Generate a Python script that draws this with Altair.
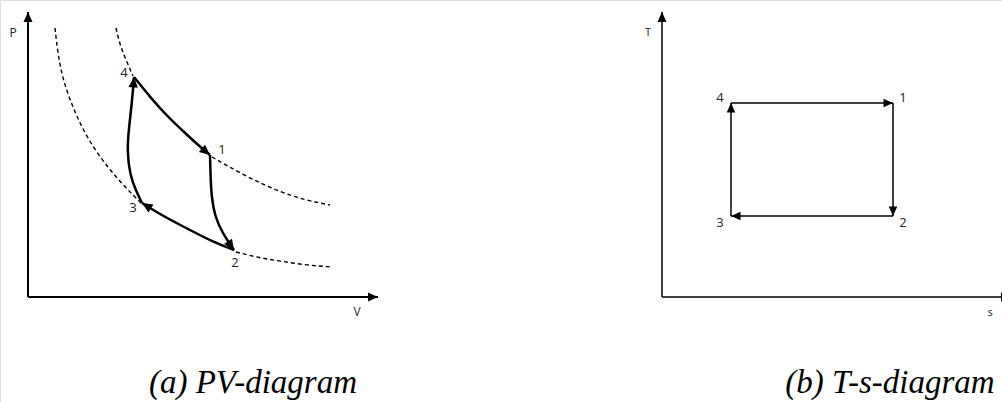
import math
import altair as alt
import pandas as pd

# ---------------- PV diagram (arbitrary volume / pressure units) ----------------
# Each cycle leg is listed from its start state to its end state.
leg_41_V = [10.6, 12.2, 13.9, 15.6, 17.0, 18.2]
leg_41_P = [22.0, 20.0, 18.1, 16.5, 15.2, 14.2]
leg_12_V = [18.2, 18.25, 18.35, 18.7, 19.5, 20.6]
leg_12_P = [14.2, 12.2, 10.0, 8.0, 6.3, 4.7]
leg_23_V = [20.6, 18.5, 16.0, 13.5, 11.4]
leg_23_P = [4.7, 5.5, 6.8, 8.1, 9.4]
leg_34_V = [11.4, 10.8, 10.2, 9.9, 10.1, 10.4, 10.6]
leg_34_P = [9.4, 10.6, 12.2, 14.6, 17.0, 19.5, 22.0]

# Visible pieces of the two isotherms (dashed)
iso_low_a_V = [2.7, 3.0, 3.5, 4.4, 5.4, 6.7, 8.2, 9.7, 11.3]
iso_low_a_P = [26.9, 24.2, 21.7, 19.2, 16.9, 14.7, 12.7, 11.0, 9.4]
iso_low_b_V = [20.8, 23.2, 25.2, 27.7, 30.4]
iso_low_b_P = [4.5, 3.9, 3.6, 3.2, 3.0]
iso_high_a_V = [8.8, 9.2, 9.8, 10.5]
iso_high_a_P = [26.9, 25.2, 23.7, 22.1]
iso_high_b_V = [18.4, 21.9, 25.2, 27.7, 30.2]
iso_high_b_P = [14.0, 12.0, 10.5, 9.7, 9.2]

pv_states = ["1", "2", "3", "4"]
pv_state_V = [18.2, 20.6, 11.4, 10.6]
pv_state_P = [14.2, 4.7, 9.4, 22.0]

# ---------------- T-s diagram (arbitrary entropy / temperature units) ----------------
ts_states = ["1", "2", "3", "4"]
ts_state_s = [23.1, 23.1, 6.9, 6.9]
ts_state_T = [19.4, 8.1, 8.1, 19.4]
ts_cycle_order = ["4", "1", "2", "3", "4"]

captions = ["(a) PV-diagram", "(b) T-s-diagram"]

# ---------------- layout ----------------
W, H = 1002, 402
PV = dict(xr=[28, 378], yr=[297, 12], xd=[0, 35], yd=[0, 28.5])
TS = dict(xr=[662, 1002], yr=[297, 12], xd=[0, 34], yd=[0, 28.5])
PV_LABEL_OFFSET = {"1": (12, -5), "2": (1, 13), "3": (-9, 5), "4": (-10, -4)}
TS_LABEL_OFFSET = {"1": (10, -5), "2": (10, 7), "3": (-11, 7), "4": (-11, -5)}
CAPTION_POS = [(253, 393), (890, 393)]
TEXT_COLOR = "#222222"

# arrowhead: tip at the anchor point, pointing along +x before rotation
ARROW = "M0,0L-1,-0.45L-1,0.45Z"


def px_per_unit(panel):
    kx = (panel["xr"][1] - panel["xr"][0]) / (panel["xd"][1] - panel["xd"][0])
    ky = (panel["yr"][0] - panel["yr"][1]) / (panel["yd"][1] - panel["yd"][0])
    return kx, ky


def heading(panel, x0, y0, x1, y1):
    kx, ky = px_per_unit(panel)
    return math.degrees(math.atan2(-(y1 - y0) * ky, (x1 - x0) * kx)) % 360


def enc(panel, xf="x", yf="y"):
    return dict(
        x=alt.X(f"{xf}:Q", axis=None,
                scale=alt.Scale(domain=panel["xd"], range=panel["xr"], nice=False, zero=False)),
        y=alt.Y(f"{yf}:Q", axis=None,
                scale=alt.Scale(domain=panel["yd"], range=panel["yr"], nice=False, zero=False)),
    )


def arrow_layer(panel, df, length):
    return alt.Chart(df).mark_point(
        shape=ARROW, filled=True, color="black", opacity=1, strokeWidth=0, size=(2 * length) ** 2
    ).encode(angle=alt.Angle("angle:Q", scale=None), **enc(panel))


def axes_layers(panel, width, arrow_len, x_end, y_end):
    ax = pd.DataFrame({"x": [0, 0], "y": [0, 0], "x2": [x_end, 0], "y2": [0, y_end]})
    rules = alt.Chart(ax).mark_rule(color="black", strokeWidth=width).encode(
        x2="x2:Q", y2="y2:Q", **enc(panel)
    )
    tips = pd.DataFrame({"x": [x_end, 0], "y": [0, y_end], "angle": [0, 270]})
    return [rules, arrow_layer(panel, tips, arrow_len)]


def label_layers(panel, names, xs, ys, offsets, size):
    out = []
    for n, xv, yv in zip(names, xs, ys):
        dx, dy = offsets[n]
        out.append(
            alt.Chart(pd.DataFrame({"x": [xv], "y": [yv], "t": [n]}))
            .mark_text(dx=dx, dy=dy, font="Open Sans", fontSize=size, color=TEXT_COLOR,
                       align="center", baseline="middle")
            .encode(text="t:N", **enc(panel))
        )
    return out


layers = []

# ---- PV: isotherms ----
iso_rows = []
for seg, vs, ps in [("low_a", iso_low_a_V, iso_low_a_P), ("low_b", iso_low_b_V, iso_low_b_P),
                    ("high_a", iso_high_a_V, iso_high_a_P), ("high_b", iso_high_b_V, iso_high_b_P)]:
    for i, (v, p) in enumerate(zip(vs, ps)):
        iso_rows.append({"seg": seg, "i": i, "x": v, "y": p})
layers.append(
    alt.Chart(pd.DataFrame(iso_rows)).mark_line(
        color="black", strokeWidth=1.4, strokeDash=[4, 3], interpolate="basis"
    ).encode(detail="seg:N", order="i:Q", **enc(PV))
)

# ---- PV: cycle ----
legs = [("41", leg_41_V, leg_41_P), ("12", leg_12_V, leg_12_P),
        ("23", leg_23_V, leg_23_P), ("34", leg_34_V, leg_34_P)]
leg_rows, tip_rows = [], []
for name, vs, ps in legs:
    for i, (v, p) in enumerate(zip(vs, ps)):
        leg_rows.append({"leg": name, "i": i, "x": v, "y": p})
    tip_rows.append({"x": vs[-1], "y": ps[-1], "angle": heading(PV, vs[-2], ps[-2], vs[-1], ps[-1])})
layers.append(
    alt.Chart(pd.DataFrame(leg_rows)).mark_line(
        color="black", strokeWidth=2.5, interpolate="basis", strokeJoin="round"
    ).encode(detail="leg:N", order="i:Q", **enc(PV))
)
layers.append(arrow_layer(PV, pd.DataFrame(tip_rows), 10.5))

layers += axes_layers(PV, 2, 10, PV["xd"][1], PV["yd"][1])
layers += label_layers(PV, pv_states, pv_state_V, pv_state_P, PV_LABEL_OFFSET, 13)
layers += label_layers(PV, ["P", "V"], [-1.5, 32.9], [26.4, -1.5],
                       {"P": (0, 0), "V": (0, 0)}, 12)

# ---- T-s: rectangle cycle ----
pos = {n: (s, t) for n, s, t in zip(ts_states, ts_state_s, ts_state_T)}
ts_rows, ts_tips = [], []
for k in range(len(ts_cycle_order) - 1):
    a, b = ts_cycle_order[k], ts_cycle_order[k + 1]
    (s0, t0), (s1, t1) = pos[a], pos[b]
    ts_rows.append({"x": s0, "y": t0, "x2": s1, "y2": t1})
    ts_tips.append({"x": s1, "y": t1, "angle": heading(TS, s0, t0, s1, t1)})
layers.append(
    alt.Chart(pd.DataFrame(ts_rows)).mark_rule(color="black", strokeWidth=1.5).encode(
        x2="x2:Q", y2="y2:Q", **enc(TS)
    )
)
layers.append(arrow_layer(TS, pd.DataFrame(ts_tips), 9.5))

layers += axes_layers(TS, 1.5, 10, 34.9, TS["yd"][1])
layers += label_layers(TS, ts_states, ts_state_s, ts_state_T, TS_LABEL_OFFSET, 13)
layers += label_layers(TS, ["T", "s"], [-1.4, 32.8], [26.4, -1.6],
                       {"T": (0, 0), "s": (0, 0)}, 11)

# ---- captions ----
for text, (cx, cy) in zip(captions, CAPTION_POS):
    layers.append(
        alt.Chart(pd.DataFrame({"t": [text]})).mark_text(
            font="Liberation Serif", fontStyle="italic", fontSize=33, color="black",
            align="center", baseline="alphabetic"
        ).encode(text="t:N", x=alt.value(cx), y=alt.value(cy))
    )

chart = (
    alt.layer(*layers)
    .resolve_scale(x="independent", y="independent")
    .properties(width=W, height=H, autosize=alt.AutoSizeParams(type="none"), padding=0)
    .configure_view(stroke=None)
    .configure(background="white")
)

chart.save("out.html", embed_options={"renderer": "svg", "actions": False})
